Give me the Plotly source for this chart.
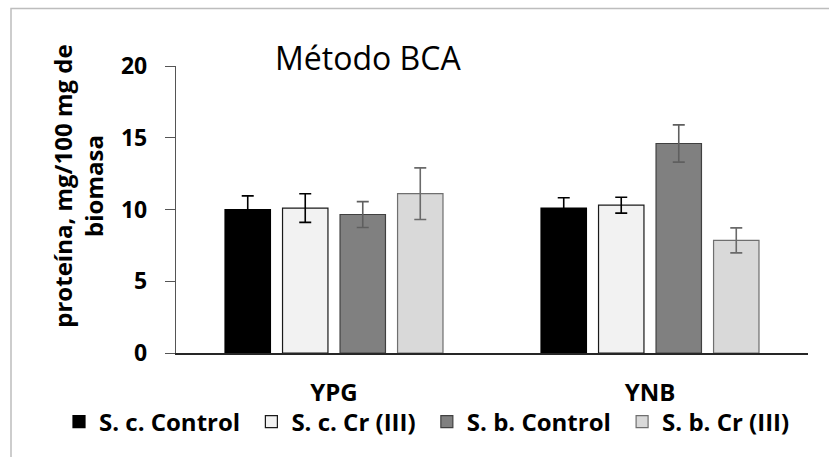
import plotly.graph_objects as go

# Protein content by culture medium and strain/treatment
media = ["YPG", "YNB"]
series_names = ["S. c. Control", "S. c. Cr (III)", "S. b. Control", "S. b. Cr (III)"]
protein = [
    [10.0, 10.1],   # S. c. Control
    [10.1, 10.3],   # S. c. Cr (III)
    [9.65, 14.6],   # S. b. Control
    [11.1, 7.85],   # S. b. Cr (III)
]
protein_err = [
    [0.95, 0.72],
    [1.0, 0.55],
    [0.9, 1.3],
    [1.8, 0.87],
]
y_ticks = [0, 5, 10, 15, 20]

fills = ["#000000", "#f2f2f2", "#808080", "#d9d9d9"]
outlines = ["#000000", "#1a1a1a", "#404040", "#6f6f6f"]
err_colors = ["#000000", "#000000", "#5f5f5f", "#6a6a6a"]

FONT = "Open Sans"
LEGEND_PAD = "\u00a0"  # a little extra room after each legend label

fig = go.Figure()
for name, vals, errs, fc, lc, ec in zip(series_names, protein, protein_err,
                                        fills, outlines, err_colors):
    fig.add_trace(go.Bar(
        name=name + LEGEND_PAD, x=media, y=vals,
        marker=dict(color=fc, line=dict(color=lc, width=1.2)),
        error_y=dict(type="data", array=errs, visible=True,
                     color=ec, thickness=1.6, width=6),
    ))

L, T = 176, 66
W, H = 632, 290

fig.update_layout(
    width=829, height=457,
    margin=dict(l=L, r=829 - L - W, t=T, b=457 - T - H),
    paper_bgcolor="white", plot_bgcolor="white",
    barmode="group", bargap=0.272, bargroupgap=0.21,
    font=dict(family=FONT, color="#000000"),
    showlegend=True,
    legend=dict(
        orientation="h", x=(59 - L) / W, xanchor="left",
        y=(H + T - 403) / H, yanchor="top",
        font=dict(family=FONT, size=24, color="#000000", weight="bold"),
        bgcolor="rgba(0,0,0,0)",
        traceorder="normal",
    ),
    xaxis=dict(
        showline=True, linecolor="#262626", linewidth=1.5,
        ticks="", showgrid=False, zeroline=False,
        tickfont=dict(family=FONT, size=24, weight="bold", color="#000000"),
        ticklabelstandoff=17,
    ),
    yaxis=dict(
        range=[0, 20], tickvals=y_ticks,
        showline=True, linecolor="#555555", linewidth=1.3,
        ticks="outside", ticklen=10, tickcolor="#555555", tickwidth=1.3,
        showgrid=False, zeroline=False,
        tickfont=dict(family=FONT, size=23, weight="bold", color="#000000"),
        ticklabelstandoff=13,
    ),
    shapes=[dict(
        type="rect", xref="paper", yref="paper",
        x0=(11 - L) / W, x1=(845 - L) / W,
        y0=(T + H - 470) / H, y1=(T + H - 8) / H,
        line=dict(color="#bdbdbd", width=1.5), fillcolor="rgba(0,0,0,0)",
        layer="below",
    )],
    annotations=[
        dict(text="Método BCA", xref="paper", yref="paper",
             x=(273 - L) / W, y=(T + H - 57) / H, xanchor="left", yanchor="middle",
             showarrow=False, font=dict(family=FONT, size=32, color="#000000")),
        dict(text="proteína, mg/100 mg de<br>biomasa", xref="paper", yref="paper",
             x=(78 - L) / W, y=(T + H - 188) / H, xanchor="center", yanchor="middle",
             textangle=-90, showarrow=False,
             font=dict(family=FONT, size=24, weight="bold", color="#000000")),
    ],
)

fig.write_html("out.html")
